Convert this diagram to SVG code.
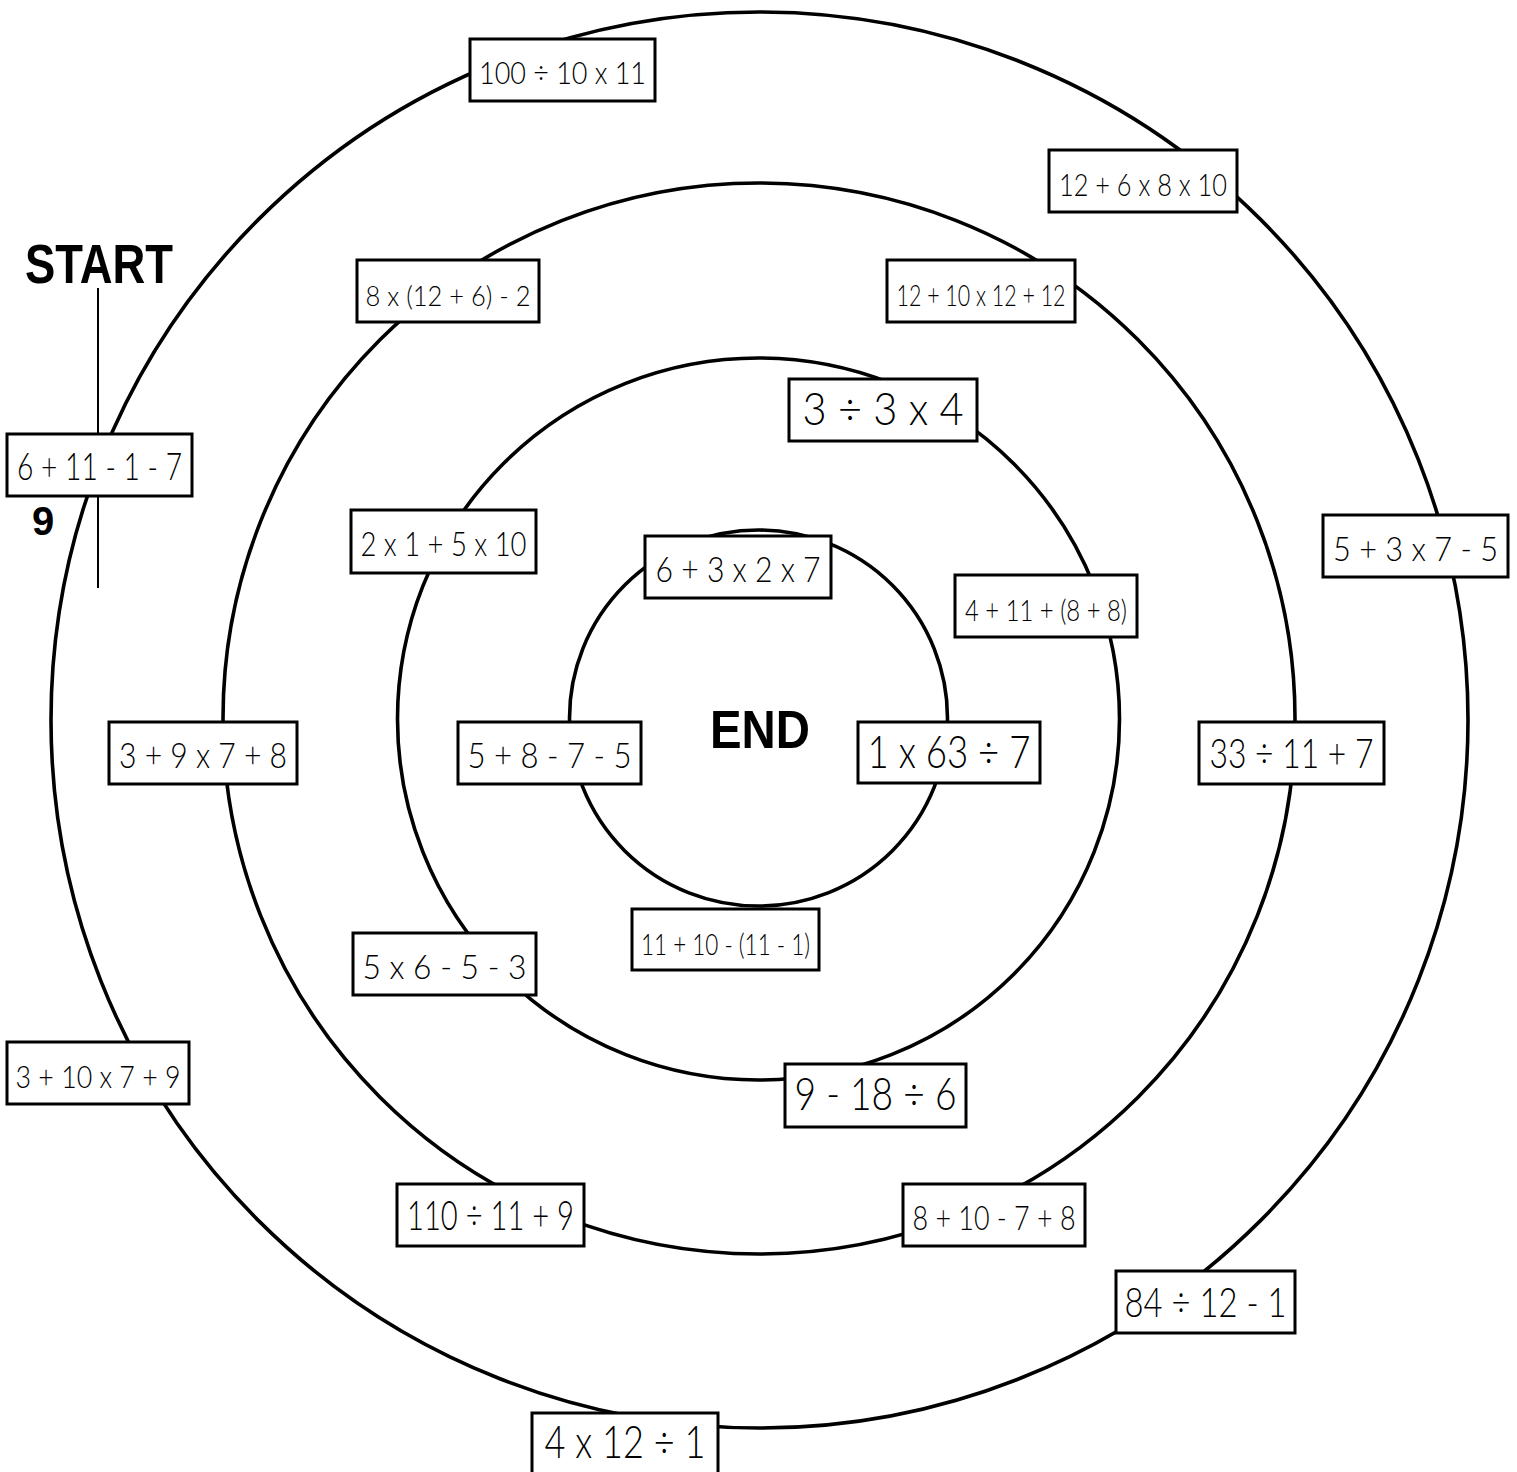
<svg xmlns="http://www.w3.org/2000/svg" width="1517" height="1472" viewBox="0 0 1517 1472">
<style>
.ring{fill:none;stroke:#000;stroke-width:3.6}
.box{fill:#fff;stroke:#000;stroke-width:3}
.t{font-family:Lato,"Noto Sans","Liberation Sans",sans-serif;font-weight:300;fill:#000;text-anchor:middle}
.b{font-family:"Liberation Sans","Noto Sans",sans-serif;font-weight:bold;fill:#000;text-anchor:middle}
.line{stroke:#000;stroke-width:2;fill:none}
</style>
<rect width="1517" height="1472" fill="#fff"/>
<g id="rings">
<ellipse class="ring" cx="759.5" cy="720" rx="708.5" ry="708"/>
<ellipse class="ring" cx="759" cy="718.5" rx="536" ry="535.5"/>
<ellipse class="ring" cx="758.5" cy="719" rx="361" ry="361"/>
<ellipse class="ring" cx="758.5" cy="718" rx="189" ry="188"/>
</g>
<g id="connectors">
<line class="line" x1="98" y1="288" x2="98" y2="588"/>
</g>
<g id="labels">
<text class="b" x="99" y="283" font-size="56" textLength="148" lengthAdjust="spacingAndGlyphs">START</text>
<text class="b" x="43" y="535" font-size="40">9</text>
<text class="b" x="760" y="748" font-size="54" textLength="100" lengthAdjust="spacingAndGlyphs">END</text>
</g>
<g id="n1"><rect class="box" x="470" y="39" width="185" height="62"/><text class="t" x="562.5" y="84" font-size="32" textLength="167" lengthAdjust="spacingAndGlyphs">100 ÷ 10 x 11</text></g>
<g id="n2"><rect class="box" x="1049" y="150" width="188" height="62"/><text class="t" x="1143" y="196" font-size="32" textLength="168" lengthAdjust="spacingAndGlyphs">12 + 6 x 8 x 10</text></g>
<g id="n3"><rect class="box" x="357" y="260" width="182" height="62"/><text class="t" x="448" y="306" font-size="28" textLength="165" lengthAdjust="spacingAndGlyphs">8 x (12 + 6) - 2</text></g>
<g id="n4"><rect class="box" x="887" y="260" width="188" height="62"/><text class="t" x="981" y="306" font-size="30" textLength="169" lengthAdjust="spacingAndGlyphs">12 + 10 x 12 + 12</text></g>
<g id="n5"><rect class="box" x="789" y="379" width="188" height="62"/><text class="t" x="883" y="425" font-size="46" textLength="161" lengthAdjust="spacingAndGlyphs">3 ÷ 3 x 4</text></g>
<g id="n6"><rect class="box" x="7" y="434" width="185" height="62"/><text class="t" x="99.5" y="480" font-size="37" textLength="165" lengthAdjust="spacingAndGlyphs">6 + 11 - 1 - 7</text></g>
<g id="n7"><rect class="box" x="351" y="510" width="185" height="63"/><text class="t" x="443.5" y="556" font-size="34" textLength="166" lengthAdjust="spacingAndGlyphs">2 x 1 + 5 x 10</text></g>
<g id="n8"><rect class="box" x="1323" y="515" width="185" height="62"/><text class="t" x="1415.5" y="561" font-size="34" textLength="165" lengthAdjust="spacingAndGlyphs">5 + 3 x 7 - 5</text></g>
<g id="n9"><rect class="box" x="645" y="536" width="186" height="62"/><text class="t" x="738" y="582" font-size="35" textLength="165" lengthAdjust="spacingAndGlyphs">6 + 3 x 2 x 7</text></g>
<g id="n10"><rect class="box" x="955" y="575" width="182" height="62"/><text class="t" x="1046" y="621" font-size="30" textLength="162" lengthAdjust="spacingAndGlyphs">4 + 11 + (8 + 8)</text></g>
<g id="n11"><rect class="box" x="858" y="722" width="182" height="61"/><text class="t" x="949" y="768" font-size="45" textLength="163" lengthAdjust="spacingAndGlyphs">1 x 63 ÷ 7</text></g>
<g id="n12"><rect class="box" x="458" y="722" width="183" height="62"/><text class="t" x="549.5" y="768" font-size="35" textLength="164" lengthAdjust="spacingAndGlyphs">5 + 8 - 7 - 5</text></g>
<g id="n13"><rect class="box" x="109" y="722" width="188" height="62"/><text class="t" x="203" y="768" font-size="35" textLength="168" lengthAdjust="spacingAndGlyphs">3 + 9 x 7 + 8</text></g>
<g id="n14"><rect class="box" x="1199" y="722" width="185" height="62"/><text class="t" x="1291.5" y="768" font-size="42" textLength="164" lengthAdjust="spacingAndGlyphs">33 ÷ 11 + 7</text></g>
<g id="n15"><rect class="box" x="632" y="909" width="187" height="61"/><text class="t" x="725.5" y="955" font-size="30" textLength="169" lengthAdjust="spacingAndGlyphs">11 + 10 - (11 - 1)</text></g>
<g id="n16"><rect class="box" x="353" y="933" width="183" height="62"/><text class="t" x="444.5" y="979" font-size="34" textLength="164" lengthAdjust="spacingAndGlyphs">5 x 6 - 5 - 3</text></g>
<g id="n17"><rect class="box" x="785" y="1064" width="181" height="63"/><text class="t" x="875.5" y="1110" font-size="46" textLength="162" lengthAdjust="spacingAndGlyphs">9 - 18 ÷ 6</text></g>
<g id="n18"><rect class="box" x="7" y="1042" width="182" height="62"/><text class="t" x="98" y="1088" font-size="32" textLength="165" lengthAdjust="spacingAndGlyphs">3 + 10 x 7 + 9</text></g>
<g id="n19"><rect class="box" x="397" y="1184" width="187" height="62"/><text class="t" x="490.5" y="1230" font-size="42" textLength="167" lengthAdjust="spacingAndGlyphs">110 ÷ 11 + 9</text></g>
<g id="n20"><rect class="box" x="903" y="1184" width="182" height="62"/><text class="t" x="994" y="1230" font-size="34" textLength="163" lengthAdjust="spacingAndGlyphs">8 + 10 - 7 + 8</text></g>
<g id="n21"><rect class="box" x="1116" y="1271" width="179" height="62"/><text class="t" x="1205.5" y="1317" font-size="42" textLength="162" lengthAdjust="spacingAndGlyphs">84 ÷ 12 - 1</text></g>
<g id="n22"><rect class="box" x="532" y="1413" width="186" height="62"/><text class="t" x="625" y="1458" font-size="46" textLength="161" lengthAdjust="spacingAndGlyphs">4 x 12 ÷ 1</text></g>
</svg>
